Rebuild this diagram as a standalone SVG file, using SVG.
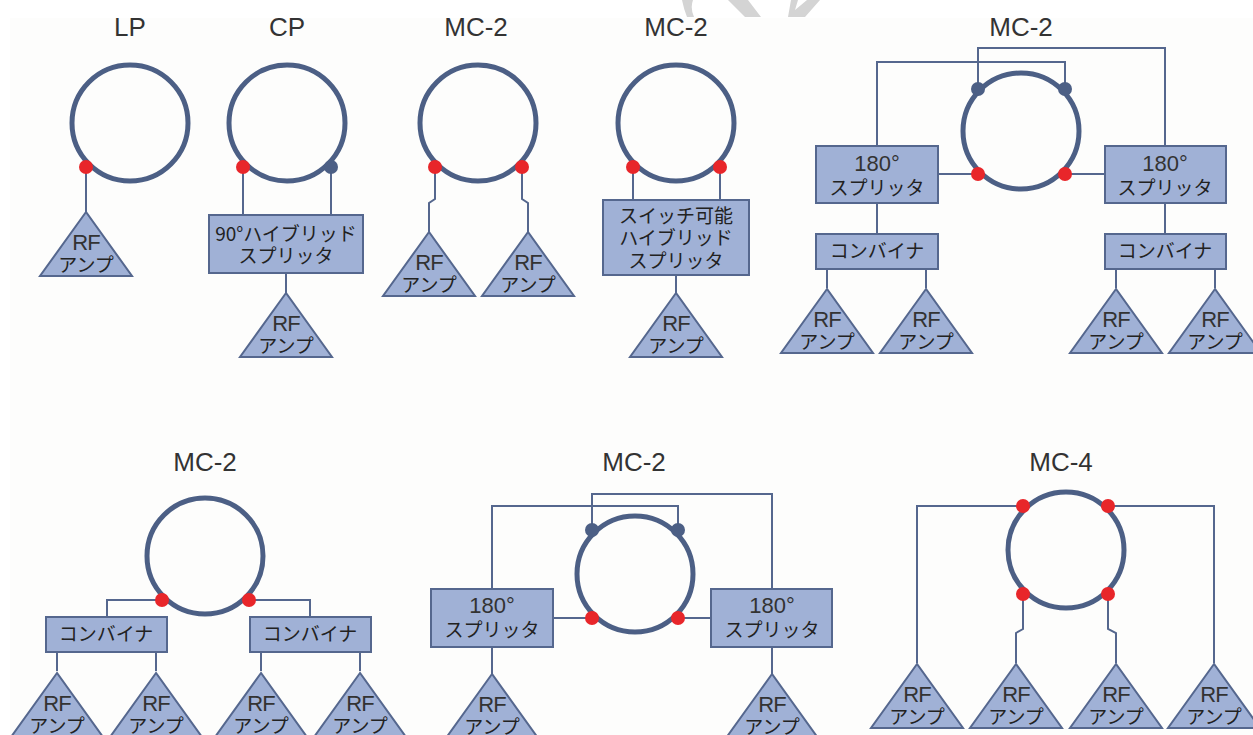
<svg xmlns="http://www.w3.org/2000/svg" width="1253" height="735" viewBox="0 0 1253 735">
<style>
text{font-family:"Noto Sans CJK JP","Liberation Sans",sans-serif;fill:#222;text-anchor:middle;font-size:19px;font-weight:400}
.t{font-size:26px;font-family:"Liberation Sans",sans-serif;fill:#333}
.n{font-size:22px;font-family:"Liberation Sans",sans-serif;fill:#333}
.rf{letter-spacing:-0.8px}
.r{fill:none;stroke:#4c5f85;stroke-width:5}
.b,.a{fill:#a0b1d6;stroke:#55678e;stroke-width:2}
.c{fill:none;stroke:#55678e;stroke-width:2}
.red{fill:#e8262a}
.blu{fill:#4c5f85}
</style>
<defs>
<g id="amp"><path class="a" d="M0,-64L-46,0H46Z"/><text y="-26"><tspan class="n rf">RF</tspan><tspan x="0" y="-4">アンプ</tspan></text></g>
</defs>
<rect width="1253" height="735" fill="#fff"/>
<rect x="10" y="18" width="1243" height="717" fill="#fdfdfc"/>
<path d="M682,0Q684,10 687,17H694Q690,8 693,0ZM728,0L745,17H761L748,0ZM791,0L788,17H805L820,0H807L795,10L798,0Z" fill="#d4d4d4"/>
<g id="connectors">
<path class="c" d="M86,167V212M243,167V215M331,167V215M286,273V295M435,167V199L429,203V232M522,167V199L528,203V232M633,167V201M720,167V201M676,275V295"/>
<path class="c" d="M978,89V48H1165V146M1065,89V62H877V146M939,174H978M1065,174H1105M877,203V234M1165,203V234M827,269V288M926,269V288M1116,269V288M1215,269V288"/>
<path class="c" d="M162,600H107V617M249,600H310V617M57,652V671M156,652V671M261,652V671M360,652V671"/>
<path class="c" d="M592,530V494H772V589M678,530V506H492V589M553,618H592M678,618H711M492,647V674M772,647V674"/>
<path class="c" d="M1023,506H917V663M1108,506H1214V663M1023,594V629L1016,633V663M1108,594V629L1116,633V663"/>
</g>
<text class="t" x="130" y="36">LP</text>
<text class="t" x="287" y="36">CP</text>
<text class="t" x="476" y="36">MC-2</text>
<text class="t" x="676" y="36">MC-2</text>
<text class="t" x="1021" y="36">MC-2</text>
<text class="t" x="205" y="471">MC-2</text>
<text class="t" x="634" y="471">MC-2</text>
<text class="t" x="1061" y="471">MC-4</text>
<g id="ant1"><circle class="r" cx="130" cy="123" r="58"/><circle class="red" cx="86" cy="167" r="7"/></g>
<g id="ant2"><circle class="r" cx="287" cy="123" r="58"/><circle class="red" cx="243" cy="167" r="7"/><circle class="blu" cx="331" cy="167" r="7"/></g>
<g id="ant3"><circle class="r" cx="478" cy="123" r="58"/><circle class="red" cx="435" cy="167" r="7"/><circle class="red" cx="522" cy="167" r="7"/></g>
<g id="ant4"><circle class="r" cx="676" cy="123" r="58"/><circle class="red" cx="633" cy="167" r="7"/><circle class="red" cx="720" cy="167" r="7"/></g>
<g id="ant5"><circle class="r" cx="1021" cy="131" r="58"/><circle class="blu" cx="978" cy="89" r="7"/><circle class="blu" cx="1065" cy="89" r="7"/><circle class="red" cx="978" cy="174" r="7"/><circle class="red" cx="1065" cy="174" r="7"/></g>
<g id="ant6"><circle class="r" cx="205" cy="556" r="58"/><circle class="red" cx="162" cy="600" r="7"/><circle class="red" cx="249" cy="600" r="7"/></g>
<g id="ant7"><circle class="r" cx="635" cy="574" r="58"/><circle class="blu" cx="592" cy="530" r="7"/><circle class="blu" cx="678" cy="530" r="7"/><circle class="red" cx="592" cy="618" r="7"/><circle class="red" cx="678" cy="618" r="7"/></g>
<g id="ant8"><circle class="r" cx="1066" cy="550" r="58"/><circle class="red" cx="1023" cy="506" r="7"/><circle class="red" cx="1108" cy="506" r="7"/><circle class="red" cx="1023" cy="594" r="7"/><circle class="red" cx="1108" cy="594" r="7"/></g>
<g id="box1"><rect class="b" x="209" y="215" width="154" height="58"/><text x="286" y="241">90°ハイブリッド<tspan x="286" y="263">スプリッタ</tspan></text></g>
<g id="box2"><rect class="b" x="603" y="200" width="146" height="75"/><text x="676" y="223">スイッチ可能<tspan x="676" y="245">ハイブリッド</tspan><tspan x="676" y="268">スプリッタ</tspan></text></g>
<g id="box3"><rect class="b" x="816" y="146" width="122" height="57"/><text x="877" y="171"><tspan class="n">180°</tspan><tspan x="877" y="195">スプリッタ</tspan></text></g>
<g id="box4"><rect class="b" x="1105" y="146" width="121" height="57"/><text x="1165" y="171"><tspan class="n">180°</tspan><tspan x="1165" y="195">スプリッタ</tspan></text></g>
<g id="box5"><rect class="b" x="816" y="234" width="122" height="35"/><text x="877" y="258">コンバイナ</text></g>
<g id="box6"><rect class="b" x="1105" y="234" width="121" height="35"/><text x="1165" y="258">コンバイナ</text></g>
<g id="box7"><rect class="b" x="46" y="617" width="121" height="35"/><text x="106" y="641">コンバイナ</text></g>
<g id="box8"><rect class="b" x="250" y="617" width="121" height="35"/><text x="310" y="641">コンバイナ</text></g>
<g id="box9"><rect class="b" x="431" y="589" width="122" height="58"/><text x="492" y="613"><tspan class="n">180°</tspan><tspan x="492" y="637">スプリッタ</tspan></text></g>
<g id="box10"><rect class="b" x="711" y="589" width="121" height="58"/><text x="772" y="613"><tspan class="n">180°</tspan><tspan x="772" y="637">スプリッタ</tspan></text></g>
<g id="amp1"><use href="#amp" x="86" y="276"/></g>
<g id="amp2"><use href="#amp" x="286" y="357"/></g>
<g id="amp3"><use href="#amp" x="429" y="296"/></g>
<g id="amp4"><use href="#amp" x="528" y="296"/></g>
<g id="amp5"><use href="#amp" x="676" y="357"/></g>
<g id="amp6"><use href="#amp" x="827" y="353"/></g>
<g id="amp7"><use href="#amp" x="926" y="353"/></g>
<g id="amp8"><use href="#amp" x="1116" y="353"/></g>
<g id="amp9"><use href="#amp" x="1215" y="353"/></g>
<g id="amp10"><use href="#amp" x="57" y="737"/></g>
<g id="amp11"><use href="#amp" x="156" y="737"/></g>
<g id="amp12"><use href="#amp" x="261" y="737"/></g>
<g id="amp13"><use href="#amp" x="360" y="737"/></g>
<g id="amp14"><use href="#amp" x="492" y="738"/></g>
<g id="amp15"><use href="#amp" x="772" y="738"/></g>
<g id="amp16"><use href="#amp" x="917" y="728"/></g>
<g id="amp17"><use href="#amp" x="1016" y="728"/></g>
<g id="amp18"><use href="#amp" x="1116" y="728"/></g>
<g id="amp19"><use href="#amp" x="1214" y="728"/></g>
</svg>
